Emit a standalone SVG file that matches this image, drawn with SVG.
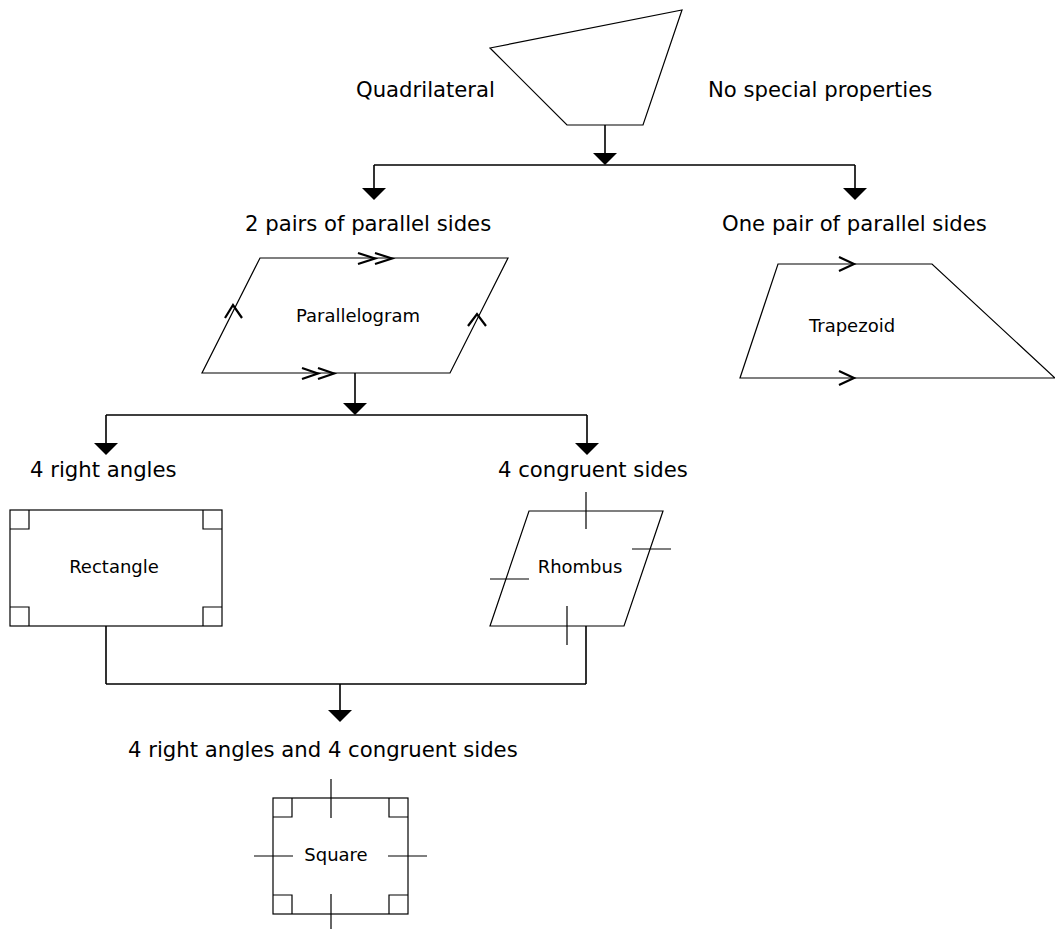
<svg xmlns="http://www.w3.org/2000/svg" width="1055" height="931" viewBox="0 0 1055 931">
<style>
.sh{fill:#fff;stroke:#000;stroke-width:1.2}
.mk{fill:none;stroke:#000;stroke-width:1.2}
.cv{fill:none;stroke:#000;stroke-width:2.2}
.cn{fill:none;stroke:#000;stroke-width:1.6}
.ah{fill:#000;stroke:none}
.big{font-family:"DejaVu Sans","Liberation Sans",sans-serif;font-size:21.2px;fill:#000}
.sm{font-family:"DejaVu Sans","Liberation Sans",sans-serif;font-size:18px;fill:#000}
</style>
<rect width="1055" height="931" fill="#fff"/>
<g id="connectors">
<path class="cn" d="M605,125V160M374,165H855M374,165V195M855,165V195"/>
<polygon class="ah" points="593,153 617,153 605,165"/>
<polygon class="ah" points="362,188 386,188 374,200"/>
<polygon class="ah" points="843,188 867,188 855,200"/>
<path class="cn" d="M355,373V410M106,415H587M106,415V450M587,415V450"/>
<polygon class="ah" points="343,403 367,403 355,415"/>
<polygon class="ah" points="94,443 118,443 106,455"/>
<polygon class="ah" points="575,443 599,443 587,455"/>
<path class="cn" d="M106,626V684M586,626V684M106,684H586M340,684V718"/>
<polygon class="ah" points="328,710 352,710 340,722"/>
</g>
<g id="quadrilateral">
<polygon class="sh" points="490,48 682,10 643,125 567,125"/>
<text class="big" x="356" y="97">Quadrilateral</text>
<text class="big" x="708" y="97">No special properties</text>
</g>
<g id="parallelogram">
<text class="big" x="245" y="231">2 pairs of parallel sides</text>
<polygon class="sh" points="260,258 508,258 450,373 202,373"/>
<path class="cv" d="M358,253L375,258.5L358,264M375,253L392,258.5L375,264"/>
<path class="cv" d="M302,368L318,373.5L302,379M318,368L334,373.5L318,379"/>
<path class="cv" d="M225,318L233,305L242,318M468,326L477,314L486,326"/>
<text class="sm" x="358" y="322" text-anchor="middle">Parallelogram</text>
</g>
<g id="trapezoid">
<text class="big" x="722" y="231">One pair of parallel sides</text>
<polygon class="sh" points="778,264 932,264 1055,378 740,378"/>
<path class="cv" d="M839,257L854,264L839,271M839,371L854,378L839,385"/>
<text class="sm" x="852" y="332" text-anchor="middle">Trapezoid</text>
</g>
<g id="rectangle">
<text class="big" x="30" y="477">4 right angles</text>
<rect class="sh" x="10" y="510" width="212" height="116"/>
<path class="mk" d="M10,529H29V510M203,510V529H222M10,607H29V626M203,626V607H222"/>
<text class="sm" x="114" y="573" text-anchor="middle">Rectangle</text>
</g>
<g id="rhombus">
<text class="big" x="498" y="477">4 congruent sides</text>
<polygon class="sh" points="529,511 663,511 624,626 490,626"/>
<path class="mk" d="M586,492V529M632,549H671M490,579H529M567,606V645"/>
<text class="sm" x="580" y="573" text-anchor="middle">Rhombus</text>
</g>
<g id="square">
<text class="big" x="128" y="757">4 right angles and 4 congruent sides</text>
<rect class="sh" x="273" y="798" width="135" height="116"/>
<path class="mk" d="M273,817H292V798M389,798V817H408M273,895H292V914M389,914V895H408"/>
<path class="mk" d="M331,779V818M331,894V929M254,856H293M388,856H427"/>
<text class="sm" x="336" y="861" text-anchor="middle">Square</text>
</g>
</svg>
